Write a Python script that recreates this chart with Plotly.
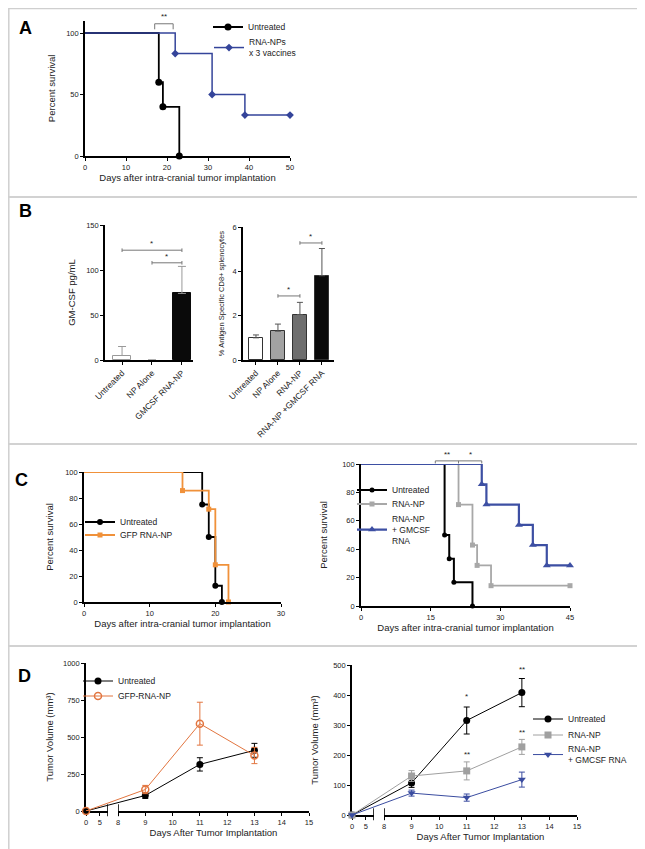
import plotly.graph_objects as go

W, H = 645, 849
FONT = "Arial, Liberation Sans, sans-serif"


def px(x):
    return x / W


def py(y):
    return 1 - y / H


# ---------------- Data ----------------
# Panel A: Kaplan-Meier survival
a_untreated_days = [0, 18, 19, 23]
a_untreated_surv = [100, 60, 40, 0]
a_rna_days = [0, 22, 31, 39, 50]
a_rna_surv = [100, 83.3, 50, 33.3, 33.3]

# Panel B: bar charts
b1_groups = ["Untreated", "NP Alone", "GMCSF RNA-NP"]
b1_values = [5, 0, 74]
b1_err = [10, 0, 30]
b2_groups = ["Untreated", "NP Alone", "RNA-NP", "RNA-NP +GMCSF RNA"]
b2_values = [1.0, 1.3, 2.05, 3.8]
b2_err = [0.13, 0.32, 0.55, 1.23]

# Panel C: survival
c1_untreated_days = [0, 18, 19, 20, 21]
c1_untreated_surv = [100, 75, 50, 12.5, 0]
c1_gfp_days = [0, 15, 19, 20, 22]
c1_gfp_surv = [100, 85.7, 71.4, 28.6, 0]
c2_untreated_days = [0, 18, 19, 20, 24]
c2_untreated_surv = [100, 50, 33.3, 16.7, 0]
c2_rnanp_days = [0, 21, 24, 25, 28, 45]
c2_rnanp_surv = [100, 71.4, 42.9, 28.6, 14.3, 14.3]
c2_gm_days = [0, 26, 27, 34, 37, 40, 45]
c2_gm_surv = [100, 85.7, 71.4, 57.1, 42.9, 28.6, 28.6]

# Panel D: tumour volume
d_days = [0, 9, 11, 13]
d1_untreated = [0, 105, 315, 410]
d1_untreated_err = [0, 20, 45, 47]
d1_gfp = [0, 145, 590, 375]
d1_gfp_err = [0, 28, 145, 55]
d2_untreated = [0, 107, 315, 408]
d2_untreated_err = [0, 15, 45, 47]
d2_rnanp = [0, 130, 147, 227]
d2_rnanp_err = [0, 18, 30, 25]
d2_gm = [0, 73, 58, 118]
d2_gm_err = [0, 10, 12, 25]

d_seg1_ticks = [0, 5]
d_seg2_ticks = [8, 9, 10, 11, 12, 13, 14, 15]

fig = go.Figure()


# ---------------- helpers ----------------
def km_trace(days, surv, name, color, symbol, size, width, xa, ya, legend):
    # drawn in reverse order so the first (legend) marker is a real event
    xs = list(reversed(days))
    ys = list(reversed(surv))
    cols = [color] * (len(xs) - 1) + ["rgba(0,0,0,0)"]
    return go.Scatter(
        x=xs, y=ys, mode="lines+markers", name=name,
        line=dict(shape="vh", color=color, width=width),
        marker=dict(symbol=symbol, size=size, color=cols),
        xaxis=xa, yaxis=ya, legend=legend, cliponaxis=False,
    )


def ax(**kw):
    d = dict(showline=True, linecolor="black", linewidth=1.6, ticks="outside",
             ticklen=3, tickwidth=1, tickcolor="black", showgrid=False,
             zeroline=False, tickfont=dict(size=7.5, color="#222", family=FONT),
             automargin=False, fixedrange=True)
    d.update(kw)
    return d


def hidden_ax(lo, hi, anchor):
    return dict(domain=[lo, hi], range=[lo, hi], anchor=anchor, showline=False,
                showticklabels=False, ticks="", showgrid=False, zeroline=False,
                fixedrange=True, automargin=False)


TFONT = dict(size=9.5, color="#222", family=FONT)
CATFONT = dict(size=8.5, color="#222", family=FONT)

# ---------------- Panel A ----------------
fig.add_trace(km_trace(a_untreated_days, a_untreated_surv, "Untreated", "black",
                       "circle", 7, 1.8, "x", "y", "legend"))
fig.add_trace(km_trace(a_rna_days, a_rna_surv, "RNA-NPs<br>x 3 vaccines", "#34449a",
                       "diamond", 6, 1.5, "x", "y", "legend2"))

# ---------------- Panel B ----------------
fig.add_trace(go.Bar(
    x=b1_groups, y=b1_values, width=0.63,
    marker=dict(color=["white", "white", "#0a0a0a"],
                line=dict(color=["#999", "rgba(0,0,0,0)", "#0a0a0a"], width=1)),
    error_y=dict(type="data", array=b1_err, arrayminus=[0] * 3, symmetric=False,
                 color="#999", thickness=1, width=4),
    xaxis="x2", yaxis="y2", showlegend=False,
))
fig.add_trace(go.Bar(
    x=b2_groups, y=b2_values, width=0.64,
    marker=dict(color=["white", "#a2a2a2", "#6e6e6e", "#0a0a0a"], line=dict(color="#333", width=1)),
    error_y=dict(type="data", array=b2_err, arrayminus=[0] * 4, symmetric=False,
                 color="#555", thickness=1, width=3),
    xaxis="x3", yaxis="y3", showlegend=False,
))

# ---------------- Panel C ----------------
fig.add_trace(km_trace(c1_untreated_days, c1_untreated_surv, "Untreated", "black",
                       "circle", 6, 1.8, "x4", "y4", "legend3"))
fig.add_trace(km_trace(c1_gfp_days, c1_gfp_surv, "GFP RNA-NP", "#f0913a",
                       "square", 5, 1.8, "x4", "y4", "legend4"))
fig.add_trace(km_trace(c2_untreated_days, c2_untreated_surv, "Untreated", "black",
                       "circle", 5, 2, "x5", "y5", "legend5"))
fig.add_trace(km_trace(c2_rnanp_days, c2_rnanp_surv, "RNA-NP", "#a8a8a8",
                       "square", 5, 1.8, "x5", "y5", "legend6"))
fig.add_trace(km_trace(c2_gm_days, c2_gm_surv, "RNA-NP<br>+ GMCSF<br>RNA", "#3d4fa3",
                       "triangle-up", 7, 2.2, "x5", "y5", "legend7"))

# ---------------- Panel D (broken x axis) ----------------
DL_SEG1 = (px(78), px(100))
DL_SEG2 = (px(110), px(301))
DR_SEG1 = (px(344), px(366))
DR_SEG2 = (px(376), px(569))


def broken(days, seg1, seg2):
    out = []
    for d in days:
        if d <= 8:
            out.append(seg1[0] + d / 8 * (seg1[1] - seg1[0]))
        else:
            out.append(seg2[0] + (d - 8) / 7 * (seg2[1] - seg2[0]))
    return out


def tv_trace(vals, err, name, color, symbol, xa, ya, legend, seg1, seg2, open_=False):
    return go.Scatter(
        x=broken(d_days, seg1, seg2), y=vals, mode="lines+markers", name=name,
        line=dict(color=color, width=1),
        marker=dict(symbol=symbol, size=7, color=color,
                    line=dict(color=color, width=1.5 if open_ else 0)),
        error_y=dict(type="data", array=err, color=color, thickness=1, width=3),
        xaxis=xa, yaxis=ya, legend=legend, cliponaxis=False,
    )


fig.add_trace(tv_trace(d1_untreated, d1_untreated_err, "Untreated", "black", "circle",
                       "x8", "y6", "legend8", DL_SEG1, DL_SEG2))
fig.add_trace(tv_trace(d1_gfp, d1_gfp_err, "GFP-RNA-NP", "#e2753f", "circle-open",
                       "x8", "y6", "legend9", DL_SEG1, DL_SEG2, open_=True))
fig.add_trace(tv_trace(d2_untreated, d2_untreated_err, "Untreated", "black", "circle",
                       "x11", "y7", "legend10", DR_SEG1, DR_SEG2))
fig.add_trace(tv_trace(d2_rnanp, d2_rnanp_err, "RNA-NP", "#a0a0a0", "square",
                       "x11", "y7", "legend11", DR_SEG1, DR_SEG2))
fig.add_trace(tv_trace(d2_gm, d2_gm_err, "RNA-NP<br>+ GMCSF RNA", "#3a4ca0", "triangle-down",
                       "x11", "y7", "legend12", DR_SEG1, DR_SEG2))

# ---------------- Layout: axes ----------------
TV_TITLE = "Tumor Volume (mm\u00b3)"
lay = dict(
    width=W, height=H, margin=dict(l=0, r=0, t=0, b=0),
    paper_bgcolor="white", plot_bgcolor="rgba(0,0,0,0)", template="none",
    font=dict(family=FONT, color="#222"),
    bargap=0,
    xaxis=ax(domain=[px(77), px(282)], range=[0, 50], dtick=10, anchor="y",
             title=dict(text="Days after intra-cranial tumor implantation", font=TFONT, standoff=0)),
    yaxis=ax(domain=[py(148), py(12.7)], range=[0, 110], tickvals=[0, 50, 100], anchor="x",
             title=dict(text="Percent survival", font=TFONT, standoff=9)),
    xaxis2=ax(domain=[px(97), px(185)], range=[-0.57, 2.37], anchor="y2", type="category",
              tickangle=-45, tickfont=CATFONT),
    yaxis2=ax(domain=[py(352), py(217)], range=[0, 150], dtick=50, anchor="x2",
              title=dict(text="GM-CSF pg/mL", font=TFONT, standoff=9)),
    xaxis3=ax(domain=[px(235), px(326)], range=[-0.59, 3.55], anchor="y3", type="category",
              tickangle=-45, tickfont=CATFONT),
    yaxis3=ax(domain=[py(352), py(219)], range=[0, 6], dtick=2, anchor="x3",
              title=dict(text="% Antigen Specific CD8+ splenocytes",
                         font=dict(size=7.5, color="#222", family=FONT), standoff=7)),
    xaxis4=ax(domain=[px(76), px(273)], range=[0, 30], dtick=10, anchor="y4",
              title=dict(text="Days after intra-cranial tumor implantation", font=TFONT, standoff=0)),
    yaxis4=ax(domain=[py(594), py(464)], range=[0, 100], dtick=20, anchor="x4",
              title=dict(text="Percent survival", font=TFONT, standoff=10)),
    xaxis5=ax(domain=[px(353), px(562)], range=[0, 45], dtick=15, anchor="y5",
              title=dict(text="Days after intra-cranial tumor implantation", font=TFONT, standoff=0)),
    yaxis5=ax(domain=[py(598), py(456)], range=[0, 100], dtick=20, anchor="x5",
              title=dict(text="Percent survival", font=TFONT, standoff=13)),
    # D left
    yaxis6=ax(domain=[py(803), py(655)], range=[0, 1000], dtick=250, anchor="x6",
              title=dict(text=TV_TITLE, font=TFONT, standoff=8)),
    xaxis6=ax(domain=list(DL_SEG1), range=[0, 8], tickvals=d_seg1_ticks, anchor="y6"),
    xaxis7=ax(domain=list(DL_SEG2), range=[8, 15], tickvals=d_seg2_ticks, anchor="y6",
              title=dict(text="Days After Tumor Implantation", font=TFONT, standoff=0)),
    xaxis8=hidden_ax(DL_SEG1[0], DL_SEG2[1], "y6"),
    # D right
    yaxis7=ax(domain=[py(807), py(657)], range=[0, 500], dtick=100, anchor="x9",
              title=dict(text=TV_TITLE, font=TFONT, standoff=13)),
    xaxis9=ax(domain=list(DR_SEG1), range=[0, 8], tickvals=d_seg1_ticks, anchor="y7"),
    xaxis10=ax(domain=list(DR_SEG2), range=[8, 15], tickvals=d_seg2_ticks, anchor="y7",
               title=dict(text="Days After Tumor Implantation", font=TFONT, standoff=0)),
    xaxis11=hidden_ax(DR_SEG1[0], DR_SEG2[1], "y7"),
)


# ---------------- Legends ----------------
def leg(text_x, center_y):
    return dict(x=px(text_x - 48), y=py(center_y - 7), xanchor="left", yanchor="middle",
                bgcolor="rgba(0,0,0,0)", borderwidth=0,
                font=dict(size=8.5, color="#222", family=FONT), itemwidth=30)


lay["legend"] = leg(248, 26)
lay["legend2"] = leg(249, 47)
lay["legend3"] = leg(120, 521)
lay["legend4"] = leg(120, 534)
lay["legend5"] = leg(392, 489)
lay["legend6"] = leg(392, 503)
lay["legend7"] = leg(392, 529)
lay["legend8"] = leg(118, 680)
lay["legend9"] = leg(118, 695)
lay["legend10"] = leg(568, 718)
lay["legend11"] = leg(568, 734)
lay["legend12"] = leg(568, 754)

fig.update_layout(**lay)

# ---------------- Shapes: panel borders, brackets ----------------
shapes = []
for y0, y1 in [(0.5, 189), (189, 436), (436, 638), (638, 848)]:
    shapes.append(dict(type="rect", xref="paper", yref="paper", x0=px(0.8), x1=px(644),
                       y0=py(y1), y1=py(y0), line=dict(color="#cfcfcf", width=1.5)))

GRAY = "#777"
# A bracket
shapes.append(dict(type="path", xref="x", yref="y", path="M 17,103 L 17,107.5 L 21.5,107.5 L 21.5,103",
                   line=dict(color=GRAY, width=1)))
# B left brackets
for x0, x1, yv in [(0, 2, 122), (1, 2, 108)]:
    shapes.append(dict(type="line", xref="x2", yref="y2", x0=x0, x1=x1, y0=yv, y1=yv,
                       line=dict(color=GRAY, width=1)))
    for xv in (x0, x1):
        shapes.append(dict(type="line", xref="x2", yref="y2", x0=xv, x1=xv, y0=yv - 2, y1=yv + 2,
                           line=dict(color=GRAY, width=1)))
# B right brackets
for x0, x1, yv in [(1, 2, 2.89), (2, 3, 5.28)]:
    shapes.append(dict(type="line", xref="x3", yref="y3", x0=x0, x1=x1, y0=yv, y1=yv,
                       line=dict(color=GRAY, width=1)))
    for xv in (x0, x1):
        shapes.append(dict(type="line", xref="x3", yref="y3", x0=xv, x1=xv, y0=yv - 0.08, y1=yv + 0.08,
                           line=dict(color=GRAY, width=1)))
# C right brackets (above the plot area, so y is relative to the axis domain)
shapes.append(dict(type="line", xref="x5", yref="y5 domain", x0=16, x1=26, y0=1.022, y1=1.022,
                   line=dict(color=GRAY, width=1)))
for xv in (16, 21, 26):
    shapes.append(dict(type="line", xref="x5", yref="y5 domain", x0=xv, x1=xv, y0=1.004, y1=1.022,
                       line=dict(color=GRAY, width=1)))
# D break ticks drawn relative to axis domains
for xa, ya in [("x6", "y6"), ("x7", "y6"), ("x9", "y7"), ("x10", "y7")]:
    shapes.append(dict(type="line", xref=xa, yref=ya + " domain", x0=8, x1=8, y0=-0.035, y1=0.045,
                       line=dict(color="black", width=1.6)))
fig.update_layout(shapes=shapes)

# ---------------- Annotations ----------------
ann = []
for t, x, y in [("A", 17, 20), ("B", 17, 203), ("C", 13, 472), ("D", 16, 668)]:
    ann.append(dict(text=f"<b>{t}</b>", x=px(x), y=py(y), xref="paper", yref="paper",
                    showarrow=False, font=dict(size=18, color="black", family=FONT),
                    xanchor="center", yanchor="middle"))

SF = dict(size=8, color="#222", family=FONT)
ann += [
    dict(text="**", x=19.2, y=108, xref="x", yref="y", showarrow=False, font=SF, yanchor="bottom"),
    dict(text="*", x=1, y=122, xref="x2", yref="y2", showarrow=False, font=SF, yanchor="bottom"),
    dict(text="*", x=1.5, y=108, xref="x2", yref="y2", showarrow=False, font=SF, yanchor="bottom"),
    dict(text="*", x=1.5, y=2.89, xref="x3", yref="y3", showarrow=False, font=SF, yanchor="bottom"),
    dict(text="*", x=2.5, y=5.28, xref="x3", yref="y3", showarrow=False, font=SF, yanchor="bottom"),
    dict(text="**", x=18.5, y=1.02, xref="x5", yref="y5 domain", showarrow=False, font=SF,
         yanchor="bottom"),
    dict(text="*", x=23.5, y=1.02, xref="x5", yref="y5 domain", showarrow=False, font=SF,
         yanchor="bottom"),
]
dr_x = broken([11, 13, 11, 13], DR_SEG1, DR_SEG2)
for xv, yv, t in zip(dr_x, [372, 465, 180, 255], ["*", "**", "**", "**"]):
    ann.append(dict(text=t, x=xv, y=yv, xref="x11", yref="y7", showarrow=False, font=SF,
                    yanchor="bottom"))
fig.update_layout(annotations=ann)

fig.write_html("out.html")
